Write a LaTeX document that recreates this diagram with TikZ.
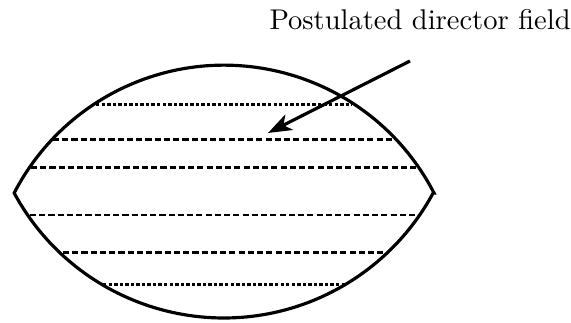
\documentclass[tikz,border=0pt]{standalone}
\usepackage{xcolor}
\usetikzlibrary{arrows.meta}
\definecolor{lensink}{HTML}{000000}

\begin{document}
\begin{tikzpicture}[x=0.0133cm, y=0.0133cm, >={Stealth[length=9pt, width=6.5pt, inset=2.5pt]},
                    every node/.style={lensink, font=\fontsize{10.8pt}{13pt}\selectfont}]
  \useasboundingbox (0,0) rectangle (571,323);

  %% 透鏡形邊界: 兩段圓弧
  \coordinate (tipL) at (15,130);
  \coordinate (tipR) at (434,130);
  \draw[lensink, line width=1.2pt, line join=miter]
    (tipR) arc (27.33:152.67:236.3)
    arc (208.37:331.63:238.1) -- cycle;

  %% 指向矢場: 水平虛線
  \draw[lensink, line width=0.95pt, dash pattern=on 1.3pt off 0.8pt] (96,218.5) -- (352,218.5);
  \draw[lensink, line width=0.95pt, dash pattern=on 2.3pt off 1.2pt] (53,183.5) -- (393,183.5);
  \draw[lensink, line width=0.95pt, dash pattern=on 2.3pt off 1.2pt] (31,155.3) -- (418,155.3);
  \draw[lensink, line width=0.95pt, dash pattern=on 2.3pt off 1.2pt] (30,108) -- (420,108);
  \draw[lensink, line width=0.95pt, dash pattern=on 2.3pt off 1.2pt] (63,70.7) -- (388,70.7);
  \draw[lensink, line width=0.95pt, dash pattern=on 1.3pt off 0.8pt] (103,38.5) -- (347,38.5);

  %% 標註
  \node[anchor=base west, inner sep=0pt] (label) at (269,293.5) {Postulated director field};
  \coordinate (arrowtail) at (410,262);
  \coordinate (arrowhead) at (268,190);
  \draw[lensink, line width=1.2pt, ->] (arrowtail) -- (arrowhead);

\end{tikzpicture}
\end{document}
